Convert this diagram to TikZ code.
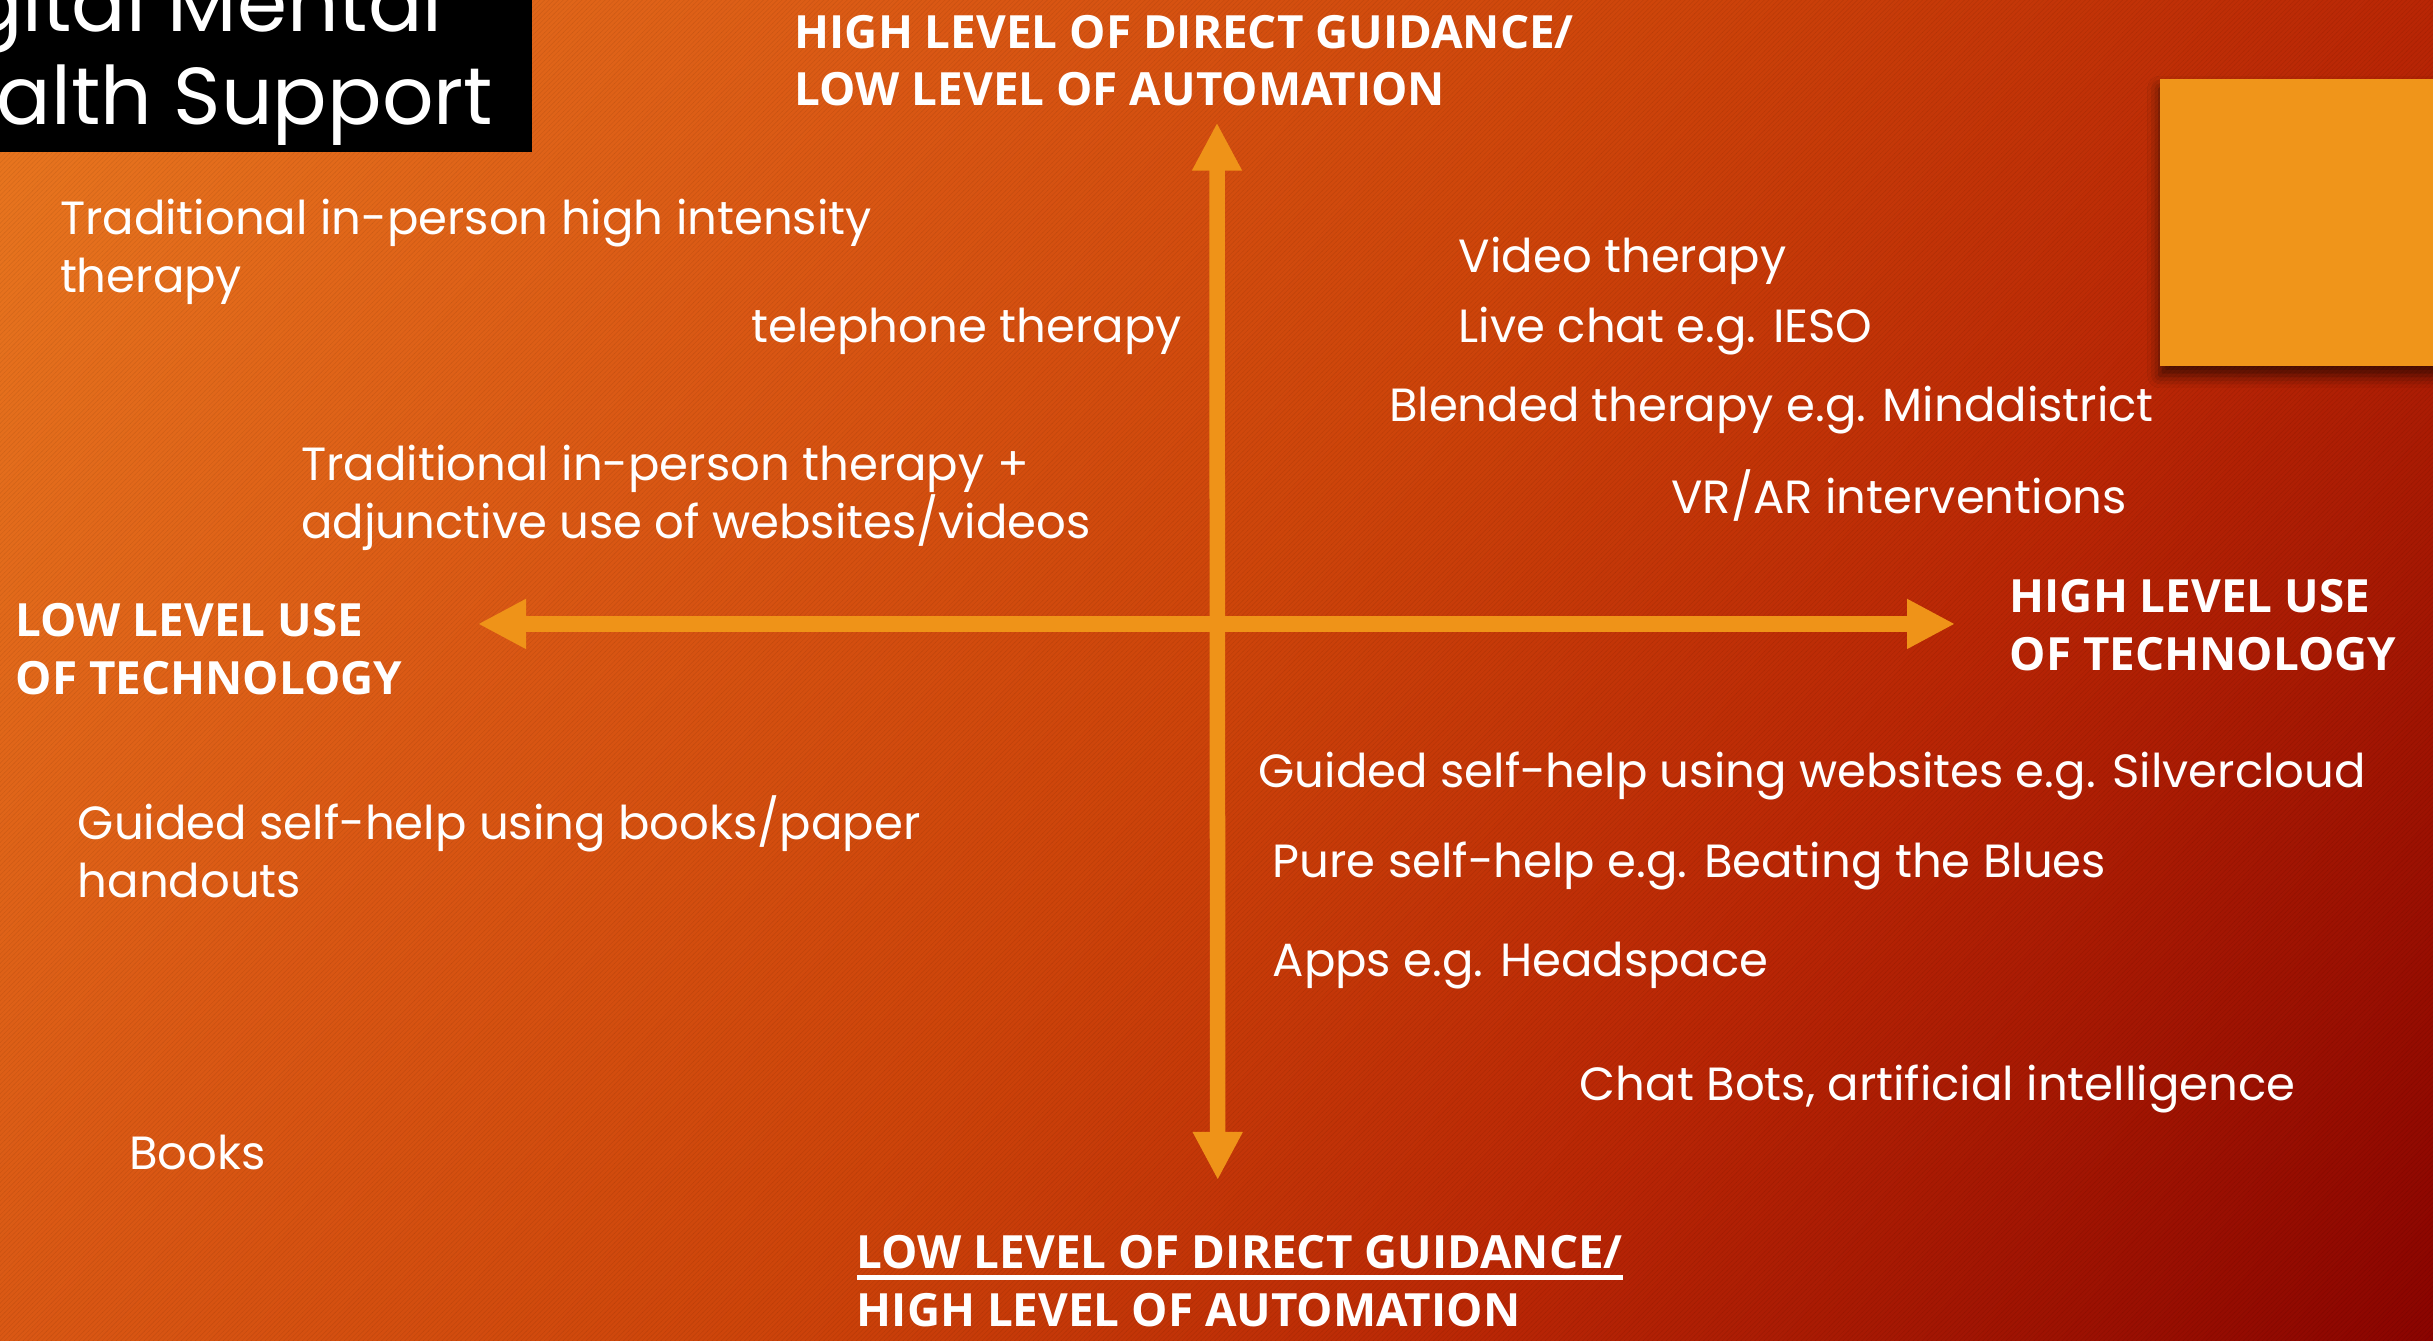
\documentclass[tikz,border=0pt]{standalone}
\usepackage{fontspec}
\setmainfont{Poppins}
\newfontfamily\lblfont{Open Sans}
\usetikzlibrary{arrows.meta,shadows.blur,patterns}
\definecolor{arrowor}{RGB}{239,147,24}
\definecolor{sqor}{RGB}{240,149,26}
\pgfdeclarehorizontalshading{bgshade}{100bp}{%
  rgb(0bp)=(0.914,0.471,0.125);
  rgb(25bp)=(0.914,0.471,0.125);
  rgb(39bp)=(0.855,0.345,0.078);
  rgb(50bp)=(0.804,0.267,0.039);
  rgb(61bp)=(0.725,0.149,0.020);
  rgb(75bp)=(0.541,0.016,0.0);
  rgb(100bp)=(0.541,0.016,0.0)}
\begin{document}
\begin{tikzpicture}[x=1pt,y=-1pt,
  body/.style={text=white, inner sep=0pt, anchor=base west, align=left,
    font=\fontsize{30}{37}\selectfont},
  lbl/.style={text=white, inner sep=0pt, anchor=base west, align=left,
    font=\lblfont\bfseries\fontsize{29.5}{37}\selectfont},
  titletext/.style={text=white, inner sep=0pt, anchor=base east, align=left,
    font=\fontsize{52}{60}\selectfont},
  axisarrow/.style={draw=arrowor, line width=10pt,
    {Triangle[width=30pt,length=31pt]}-{Triangle[width=30pt,length=31pt]}}]
\useasboundingbox (0,0) rectangle (1568,864);
\begin{scope}
\clip (0,0) rectangle (1568,864);
% background gradient
\shade[transform canvas={rotate around={-35:(784,432)}}, shading=bgshade]
  (-106,-568) rectangle (1674,1432);
\fill[pattern=north east lines, pattern color=black, opacity=0.07]
  (0,0) rectangle (1568,864);
% title box
\fill[black] (0,0) rectangle (342.7,97.7);
\node[titletext] (title) at (318,80) {Digital Mental\\Health Support};
% orange square with shadow
\fill[sqor, blur shadow={shadow xshift=0pt, shadow yshift=-6pt,
  shadow blur radius=8pt, shadow opacity=65}] (1392,51) rectangle (1600,236);
% axes
\coordinate (vt) at (784.3,79);
\coordinate (vb) at (784.8,760.5);
\coordinate (hl) at (308,402.1);
\coordinate (hr) at (1260,402.1);
\draw[axisarrow] (hl) -- (hr);
\draw[axisarrow] (vt) -- (vb);
% axis labels
\node[lbl] (top) at (512,68) {HIGH LEVEL OF DIRECT GUIDANCE/\\LOW LEVEL OF AUTOMATION};
\node[lbl] (bot) at (552,854.8) {LOW LEVEL OF DIRECT GUIDANCE/\\HIGH LEVEL OF AUTOMATION};
\draw[white, line width=2.6pt] ([yshift=31.5pt]bot.base west) -- ([yshift=31.5pt]bot.base east);
\node[lbl] (left) at (10,447.3) {LOW LEVEL USE\\OF TECHNOLOGY};
\node[lbl] (right) at (1295,432) {HIGH LEVEL USE\\OF TECHNOLOGY};
% items
\node[body] (trad) at (38.5,188.4) {Traditional in-person high intensity\\therapy};
\node[body] (tel) at (484,220.8) {telephone therapy};
\node[body] (video) at (940,175.7) {Video therapy};
\node[body] (live) at (940,221) {Live chat e.g. IESO};
\node[body] (blend) at (895,271.7) {Blended therapy e.g. Minddistrict};
\node[body] (vr) at (1077,330.8) {VR/AR interventions};
\node[body] (tradweb) at (194,346.8) {Traditional in-person therapy +\\adjunctive use of websites/videos};
\node[body] (gweb) at (811,507.4) {Guided self-help using websites e.g. Silvercloud};
\node[body] (pure) at (820,565.4) {Pure self-help e.g. Beating the Blues};
\node[body] (apps) at (820,629.4) {Apps e.g. Headspace};
\node[body] (chat) at (1018,709.3) {Chat Bots, artificial intelligence};
\node[body] (gbook) at (50,578.2) {Guided self-help using books/paper\\handouts};
\node[body] (books) at (83,754) {Books};
\end{scope}
\end{tikzpicture}
\end{document}
